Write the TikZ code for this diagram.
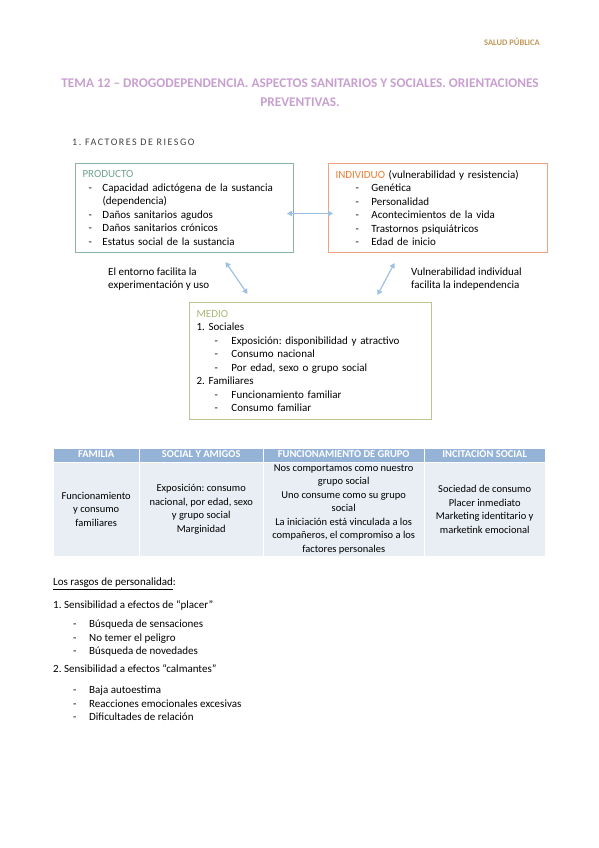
\documentclass[tikz,border=0pt]{standalone}
\usepackage{fontspec}
\setmainfont{Carlito}
\usetikzlibrary{arrows.meta}
\definecolor{salud}{RGB}{191,152,88}
\definecolor{tema}{RGB}{200,160,208}
\definecolor{prodline}{RGB}{140,178,166}
\definecolor{prodtext}{RGB}{112,163,146}
\definecolor{indline}{RGB}{241,162,122}
\definecolor{indtext}{RGB}{237,125,49}
\definecolor{medline}{RGB}{190,196,150}
\definecolor{medtext}{RGB}{168,184,118}
\definecolor{flecha}{RGB}{157,193,226}
\definecolor{cabecera}{RGB}{149,179,215}
\definecolor{celda}{RGB}{233,238,245}
\newcommand{\raya}[2]{\hspace*{#1}\makebox[#2][l]{-}}
\frenchspacing
\begin{document}
\begin{tikzpicture}[x=1pt,y=-1pt,
  caja/.style={draw, line width=1pt, anchor=north west, align=left, inner xsep=7pt, inner ysep=0pt, font=\fontsize{11}{13.5}\selectfont},
  enlace/.style={{Triangle[length=5pt,width=5.5pt]}-{Triangle[length=5pt,width=5.5pt]}, draw=flecha, line width=1.2pt},
  cabeza/.style={fill=cabecera, draw=white, text=white, font=\fontsize{10.5}{12}\selectfont\bfseries, minimum height=14pt, text height=7.5pt, text depth=2.5pt, anchor=north west, inner sep=0pt},
  celdas/.style={fill=celda, draw=white, align=center, font=\fontsize{10.5}{13.5}\selectfont, minimum height=94pt, anchor=north west, inner sep=0pt},
  texto/.style={anchor=base west, inner sep=0pt, font=\fontsize{11}{13.5}\selectfont, align=left}]
\useasboundingbox (0,0) rectangle (599,848);

\node[anchor=base east, inner sep=0pt, text=salud, font=\fontsize{8.5}{10}\selectfont\bfseries] (salud) at (540,46) {SALUD PÚBLICA};
\node[align=center, inner sep=0pt, text=tema, font=\fontsize{13.3}{18.5}\selectfont\bfseries] (titulo) at (300,92.5) {TEMA 12 – DROGODEPENDENCIA. ASPECTOS SANITARIOS Y SOCIALES. ORIENTACIONES\\PREVENTIVAS.};
\node[anchor=base west, inner sep=0pt, text=black!75, font=\fontsize{10}{12}\selectfont\addfontfeature{LetterSpace=15}] (factores) at (72,145.5) {1. FACTORES DE RIESGO};

\node[caja, draw=prodline, text width=204pt, minimum height=89pt] (producto) at (75,163) {\textcolor{prodtext}{PRODUCTO}\\
\raya{6pt}{14pt}Capacidad adictógena de la sustancia\\
\hspace*{20pt}(dependencia)\\
\raya{6pt}{14pt}Daños sanitarios agudos\\
\raya{6pt}{14pt}Daños sanitarios crónicos\\
\raya{6pt}{14pt}Estatus social de la sustancia};
\node[caja, draw=indline, text width=205pt, minimum height=89pt] (individuo) at (328,163) {\textcolor{indtext}{INDIVIDUO} (vulnerabilidad y resistencia)\\
\raya{20pt}{16pt}Genética\\
\raya{20pt}{16pt}Personalidad\\
\raya{20pt}{16pt}Acontecimientos de la vida\\
\raya{20pt}{16pt}Trastornos psiquiátricos\\
\raya{20pt}{16pt}Edad de inicio};
\node[caja, draw=medline, text width=228pt, minimum height=117pt] (medio) at (189,302) {\textcolor{medtext}{MEDIO}\\
1. Sociales\\
\raya{18pt}{17pt}Exposición: disponibilidad y atractivo\\
\raya{18pt}{17pt}Consumo nacional\\
\raya{18pt}{17pt}Por edad, sexo o grupo social\\
2. Familiares\\
\raya{18pt}{17pt}Funcionamiento familiar\\
\raya{18pt}{17pt}Consumo familiar};

\draw[enlace] ([shift={(-7,5.5)}]producto.east) -- ([shift={(5,5.5)}]individuo.west);
\draw[enlace] ([shift={(41,9)}]producto.south) -- ([shift={(-63,-8)}]medio.north);
\draw[enlace] ([shift={(-43.5,10)}]individuo.south) -- ([shift={(67,-7)}]medio.north);
\node[texto] (entorno) at (108,288.5) {El entorno facilita la\\experimentación y uso};
\node[texto] (vulnerab) at (411,288.5) {Vulnerabilidad individual\\facilita la independencia};

\node[cabeza, minimum width=86pt] (familia) at (53,448) {FAMILIA};
\node[cabeza, minimum width=124pt] (social) at (139,448) {SOCIAL Y AMIGOS};
\node[cabeza, minimum width=161pt] (grupo) at (263,448) {FUNCIONAMIENTO DE GRUPO};
\node[cabeza, minimum width=121pt] (incita) at (424,448) {INCITACIÓN SOCIAL};
\node[celdas, minimum width=86pt] (cfamilia) at (53,462) {Funcionamiento\\y consumo\\familiares};
\node[celdas, minimum width=124pt] (csocial) at (139,462) {Exposición: consumo\\nacional, por edad, sexo\\y grupo social\\Marginidad};
\node[celdas, minimum width=161pt] (cgrupo) at (263,462) {Nos comportamos como nuestro\\grupo social\\Uno consume como su grupo\\social\\La iniciación está vinculada a los\\compañeros, el compromiso a los\\factores personales};
\node[celdas, minimum width=121pt] (cincita) at (424,462) {Sociedad de consumo\\Placer inmediato\\Marketing identitario y\\marketink emocional};

\node[texto] (rasgos) at (53,585.5) {\underline{Los rasgos de personalidad}:};
\node[texto] (placer) at (53,608.5) {1. Sensibilidad a efectos de “placer”};
\node[texto] (lplacer) at (53,654.5) {\raya{20pt}{16pt}Búsqueda de sensaciones\\
\raya{20pt}{16pt}No temer el peligro\\
\raya{20pt}{16pt}Búsqueda de novedades};
\node[texto] (calma) at (53,672.5) {2. Sensibilidad a efectos “calmantes”};
\node[texto] (lcalma) at (53,720.5) {\raya{20pt}{16pt}Baja autoestima\\
\raya{20pt}{16pt}Reacciones emocionales excesivas\\
\raya{20pt}{16pt}Dificultades de relación};
\end{tikzpicture}
\end{document}
